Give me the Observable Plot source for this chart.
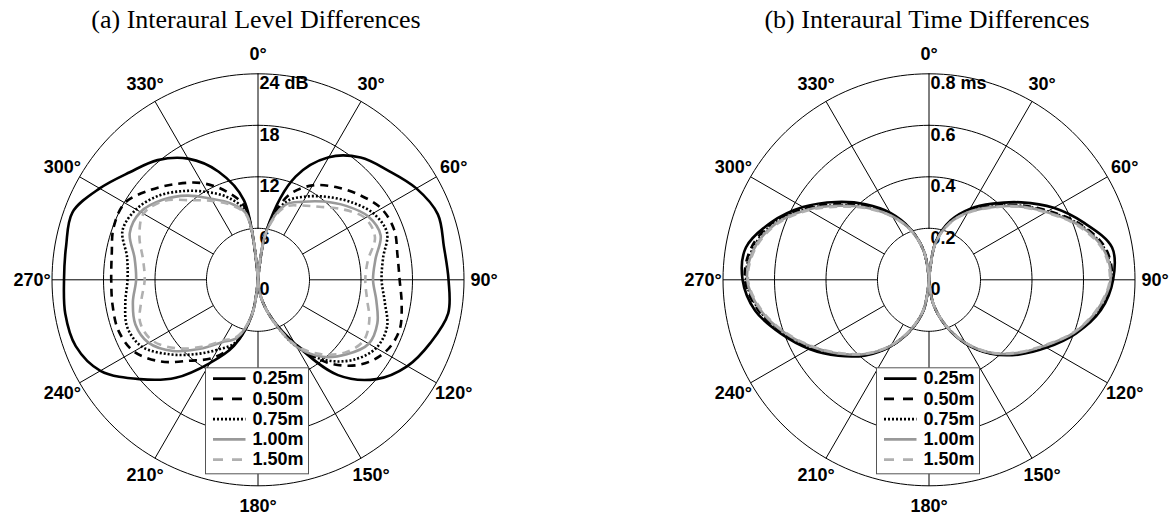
<!DOCTYPE html>
<html>
<head>
<meta charset="utf-8">
<script src="https://cdn.jsdelivr.net/npm/d3@7"></script>
<script src="https://cdn.jsdelivr.net/npm/@observablehq/plot@0.6"></script>
<style>
  html, body { margin: 0; padding: 0; background: #fff; }
  #chart svg { display: block; }
</style>
</head>
<body>
<div id="chart"></div>
<script>
// ---------------- DATA ----------------
const angles = [0,10,20,30,40,50,60,70,80,90,100,110,120,130,140,150,160,170,180,
                190,200,210,220,230,240,250,260,270,280,290,300,310,320,330,340,350,360];
const distances = ["0.25m", "0.50m", "0.75m", "1.00m", "1.50m"];

// Interaural Level Differences (dB), by azimuth
const ild025 = [0,6.0,12.8,16.5,18.6,19.8,21.3,22.3,22.0,22.2,22.5,21.4,20.1,18.0,14.5,8.6,4.9,2.1,0,
                4.2,8.2,11.2,14.9,18.0,21.2,22.6,22.8,22.6,22.7,23.0,21.3,19.5,18.2,16.3,13.4,9.4,0];
const ild050 = [0,6.0,10.5,12.7,14.1,15.4,16.6,16.9,16.5,16.5,17.0,17.5,17.0,15.4,12.6,8.6,4.9,2.1,0,
                4.2,8.0,10.5,12.3,14.8,16.7,17.3,17.2,17.1,17.3,17.9,17.9,16.3,14.6,13.0,11.0,8.5,0];
const ild075 = [0,6.0,9.7,11.2,12.6,14.1,15.5,16.0,14.8,14.4,15.0,16.0,15.9,14.5,12.2,9.0,5.0,2.1,0,
                4.2,7.8,9.4,11.3,13.5,15.6,16.2,15.7,15.2,15.5,16.8,16.4,15.2,13.5,11.8,10.2,8.0,0];
const ild100 = [0,5.8,9.3,10.5,11.9,13.4,14.8,15.2,13.9,13.4,14.0,14.8,14.9,13.5,11.7,9.0,5.0,2.1,0,
                4.2,7.2,8.4,10.5,12.9,14.7,15.2,14.8,14.2,14.6,15.9,15.8,14.5,12.8,10.9,9.5,7.8,0];
const ild150 = [0,5.7,9.0,10.0,11.1,12.8,14.4,14.5,13.0,12.5,12.9,13.8,14.2,13.2,11.3,8.8,5.0,2.1,0,
                4.2,7.0,8.2,10.2,12.4,14.2,14.6,13.8,13.2,13.6,14.7,15.4,14.3,12.1,10.6,9.3,7.6,0];

// Interaural Time Differences (ms), by azimuth
const itd025 = [0,0.150,0.245,0.318,0.386,0.468,0.559,0.643,0.722,0.715,0.678,0.608,0.527,0.452,0.375,0.287,0.190,0.095,0,
                0.120,0.208,0.298,0.383,0.459,0.537,0.612,0.686,0.724,0.722,0.652,0.565,0.470,0.383,0.300,0.210,0.110,0];
const itd050 = [0,0.148,0.240,0.308,0.373,0.452,0.535,0.628,0.697,0.710,0.672,0.604,0.520,0.447,0.372,0.285,0.189,0.094,0,
                0.117,0.208,0.298,0.378,0.452,0.528,0.604,0.674,0.715,0.702,0.648,0.556,0.458,0.372,0.292,0.208,0.112,0];
const itd075 = [0,0.146,0.238,0.306,0.370,0.449,0.531,0.624,0.692,0.707,0.668,0.602,0.518,0.445,0.371,0.284,0.188,0.094,0,
                0.116,0.206,0.296,0.377,0.449,0.525,0.601,0.670,0.710,0.695,0.641,0.550,0.451,0.367,0.288,0.206,0.111,0];
const itd100 = [0,0.145,0.235,0.303,0.367,0.445,0.527,0.620,0.688,0.705,0.665,0.600,0.515,0.443,0.370,0.283,0.188,0.094,0,
                0.115,0.205,0.295,0.375,0.447,0.522,0.598,0.666,0.706,0.690,0.635,0.545,0.447,0.363,0.285,0.205,0.110,0];
const itd150 = [0,0.144,0.233,0.300,0.364,0.442,0.523,0.615,0.684,0.702,0.662,0.597,0.512,0.440,0.368,0.281,0.187,0.093,0,
                0.114,0.203,0.293,0.373,0.444,0.519,0.595,0.662,0.703,0.686,0.630,0.540,0.442,0.360,0.282,0.203,0.109,0];

// Axis ticks and labels
const ildTicks = [0, 6, 12, 18, 24];
const ildTickLabels = ["0", "6", "12", "18", "24 dB"];
const itdTicks = [0, 0.2, 0.4, 0.6, 0.8];
const itdTickLabels = ["0", "0.2", "0.4", "0.6", "0.8 ms"];
const angleTicks = [0, 30, 60, 90, 120, 150, 180, 210, 240, 270, 300, 330];
const angleTickLabels = ["0°", "30°", "60°", "90°", "120°", "150°", "180°", "210°", "240°", "270°", "300°", "330°"];
const titles = ["(a) Interaural Level Differences", "(b) Interaural Time Differences"];

// ---------------- LAYOUT / STYLE ----------------
const W = 1172, H = 515;
const R = 206;                 // outer ring radius in px
const CX0 = 257.5, CY = 279.3; // left panel centre in px
const PANEL_GAP = 671;         // px between the two centres
const toU = px => px / R;      // px -> radius units

const seriesStyle = [
  {stroke: "#000000", dash: null,  legendDash: null},
  {stroke: "#000000", dash: "8,6", legendDash: "10,9"},
  {stroke: "#000000", dash: "2,2", legendDash: "2,2"},
  {stroke: "#999999", dash: null,  legendDash: null},
  {stroke: "#b0b0b0", dash: "8,6", legendDash: "10,9"}
];
const SANS = "Liberation Sans, Arial, Helvetica, sans-serif";
const SERIF = "Liberation Serif, Times New Roman, Times, serif";

const panels = [
  {title: titles[0], max: 24, ticks: ildTicks, labels: ildTickLabels,
   series: [ild025, ild050, ild075, ild100, ild150], off: 0},
  {title: titles[1], max: 0.8, ticks: itdTicks, labels: itdTickLabels,
   series: [itd025, itd050, itd075, itd100, itd150], off: toU(PANEL_GAP)}
];

const rad = a => a * Math.PI / 180;
const px = (off, rn, a) => off + rn * Math.sin(rad(a));
const py = (rn, a) => rn * Math.cos(rad(a));

// curve rows (split into right lobe 0..180 and left lobe 180..360)
const curveRows = [];
panels.forEach((p, pi) => p.series.forEach((vals, si) => vals.forEach((v, i) => {
  const a = angles[i], rn = v / p.max;
  const pt = {pi, si, x: px(p.off, rn, a), y: py(rn, a)};
  if (a <= 180) curveRows.push({...pt, lobe: "R"});
  if (a >= 180) curveRows.push({...pt, lobe: "L"});
})));

// grid circles
const ringRows = [];
panels.forEach((p, pi) => p.ticks.filter(t => t > 0).forEach(t => {
  for (let a = 0; a <= 360; a += 2) ringRows.push({pi, t, x: px(p.off, t / p.max, a), y: py(t / p.max, a)});
}));
// spokes
const spokeRows = [];
panels.forEach((p, pi) => angleTicks.forEach(a => {
  const r0 = p.ticks[1] / p.max, r1 = 1;
  spokeRows.push({x1: px(p.off, r0, a), y1: py(r0, a), x2: px(p.off, r1, a), y2: py(r1, a)});
}));
// ring labels
const ringLabelRows = [];
panels.forEach(p => p.ticks.forEach((t, i) => ringLabelRows.push({x: p.off, y: t / p.max, text: p.labels[i]})));
// angle labels
const LABEL_R = toU(226);
const angleLabelRows = [];
panels.forEach(p => angleTicks.forEach((a, i) => angleLabelRows.push({x: px(p.off, LABEL_R, a), y: py(LABEL_R, a), text: angleTickLabels[i]})));
// titles
const yTop = toU(CY);
const titleRows = panels.map(p => ({x: p.off - toU(2), y: yTop, text: p.title}));

// legend (layout in px relative to panel centre)
const LEG = {left: -52, right: 51, top: 88.5, bottom: 194.5, row0: 98.8, rowStep: 20.25, lineX1: -45, lineX2: -12.5, textX: -5.5};
const legendBoxes = panels.map(p => ({x1: p.off + toU(LEG.left), x2: p.off + toU(LEG.right), y1: -toU(LEG.top), y2: -toU(LEG.bottom)}));
const legendLines = [], legendTexts = [];
panels.forEach(p => distances.forEach((d, si) => {
  const y = -toU(LEG.row0 + si * LEG.rowStep);
  legendLines.push({si, x1: p.off + toU(LEG.lineX1), x2: p.off + toU(LEG.lineX2), y});
  legendTexts.push({x: p.off + toU(LEG.textX), y, text: d});
}));

// ---------------- PLOT ----------------
const marks = [];
marks.push(Plot.text(titleRows, {x: "x", y: "y", text: "text", dy: 19, fontFamily: SERIF, fontSize: 26, fill: "#000", textAnchor: "middle"}));
marks.push(Plot.line(ringRows, {x: "x", y: "y", z: d => d.pi + "-" + d.t, stroke: "#000", strokeWidth: 1}));
marks.push(Plot.link(spokeRows, {x1: "x1", y1: "y1", x2: "x2", y2: "y2", stroke: "#000", strokeWidth: 1}));
marks.push(Plot.text(ringLabelRows, {x: "x", y: "y", text: "text", dx: 1.5, dy: 9.5, textAnchor: "start", fontFamily: SANS, fontWeight: "bold", fontSize: 18, fill: "#000"}));
seriesStyle.forEach((s, si) => {
  marks.push(Plot.line(curveRows.filter(d => d.si === si), {
    x: "x", y: "y", z: d => d.pi + d.lobe, curve: "catmull-rom",
    stroke: s.stroke, strokeWidth: 2.6, strokeDasharray: s.dash || undefined,
    strokeLinecap: s.dash ? "butt" : "round", strokeLinejoin: "round"
  }));
});
marks.push(Plot.text(angleLabelRows, {x: "x", y: "y", text: "text", fontFamily: SANS, fontWeight: "bold", fontSize: 18, fill: "#000"}));
marks.push(Plot.rect(legendBoxes, {x1: "x1", x2: "x2", y1: "y1", y2: "y2", fill: "#fff", stroke: "#555", strokeWidth: 1}));
seriesStyle.forEach((s, si) => {
  marks.push(Plot.link(legendLines.filter(d => d.si === si), {
    x1: "x1", x2: "x2", y1: "y", y2: "y",
    stroke: s.stroke, strokeWidth: 2.6, strokeDasharray: s.legendDash || undefined, strokeLinecap: "butt"
  }));
});
marks.push(Plot.text(legendTexts, {x: "x", y: "y", text: "text", textAnchor: "start", fontFamily: SANS, fontWeight: "bold", fontSize: 18, fill: "#000"}));

const chart = Plot.plot({
  width: W, height: H,
  margin: 0,
  x: {domain: [-toU(CX0), toU(W - CX0)], axis: null},
  y: {domain: [-toU(H - CY), toU(CY)], axis: null},
  style: {background: "#fff", overflow: "visible"},
  marks
});
document.getElementById("chart").appendChild(chart);
</script>
</body>
</html>
